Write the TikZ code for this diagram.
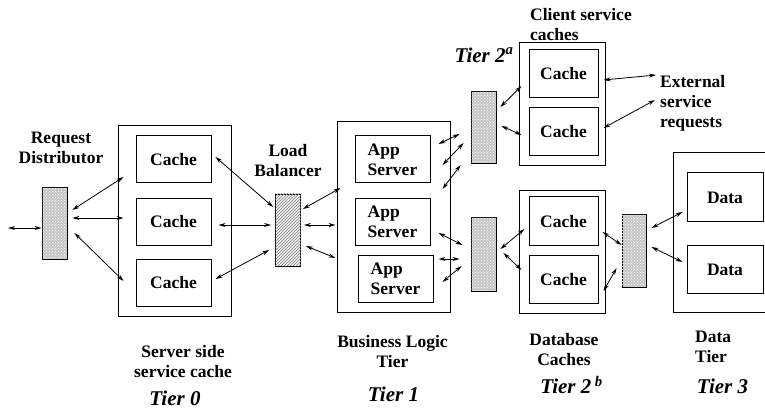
\documentclass[tikz,border=0pt]{standalone}
\usepackage{fontspec}
\setmainfont{Liberation Serif}
\usetikzlibrary{arrows.meta,patterns,positioning}

\begin{document}
\begin{tikzpicture}
			[x=1pt,y=1pt,>={Stealth[length=7pt,width=4pt]},
			every node/.style={font=\fontsize{17.5}{20}\selectfont\bfseries},
			tierbox/.style={draw,line width=1pt,inner sep=0pt,minimum width=113pt,minimum height=191pt},
			cachebox/.style={tierbox,minimum height=123pt,minimum width=86pt},
			cell/.style={draw,line width=1pt,inner sep=0pt,minimum width=75pt,minimum height=47pt},
			smallcell/.style={cell,minimum width=69pt,minimum height=48pt},
			spreader/.style={draw,line width=0.8pt,inner sep=0pt,minimum width=25pt,minimum height=72pt,
				fill=gray!45,postaction={pattern=crosshatch dots,pattern color=white}},
			balancer/.style={spreader,fill=gray!12,postaction={pattern=north east lines,pattern color=gray}},
			link/.style={<->,line width=0.8pt},
			tierlabel/.style={inner sep=0pt,font=\fontsize{21}{24}\selectfont\bfseries\itshape}]

			\useasboundingbox (0,0) rectangle (765,409);

			% tier 0
			\node [spreader](dist) at (54.5,186) {};
			\node [align=center](distlabel) at (61,261) {Request\\Distributor};
			\coordinate (req) at (8,181);
			\node [tierbox](t0) at (174.5,187.5) {};
				\node [cell](c01) at (173.5,249.5) {Cache};
				\node [cell](c02) at (173.5,187)   {Cache};
				\node [cell](c03) at (173.5,126)   {Cache};

			% load balancer
			\node [balancer](lb1) at (288,179) {};
			\node [align=center](lblabel) at (288,248) {Load\\Balancer};

			% tier 1
			\node [tierbox](t1) at (393.5,191.5) {};
				\node [cell,align=left](app1) at (392.5,249.5) {App\\Server};
				\node [cell,align=left](app2) at (392.5,187)   {App\\Server};
				\node [cell,align=left](app3) at (395.5,130)   {App\\Server};

			% tier 2
			\node [spreader](lb2a) at (483.5,282) {};
			\node [spreader,minimum height=74pt](lb2b) at (483.5,155) {};
			\node [cachebox](cl) at (562,304.5) {};
				\node [smallcell](cc1) at (563.5,335) {Cache};
				\node [smallcell](cc2) at (563.5,277) {Cache};
			\node [anchor=west,align=left,inner sep=0pt](cllabel) at (530,384) {Client service\\caches};
			\node [tierlabel](t2alabel) at (484,354) {Tier 2\textsuperscript{a}};
			\node [anchor=west,align=left,inner sep=0pt](ext) at (660,306) {External\\service\\requests};
			\node [cachebox](db) at (562,156.5) {};
				\node [smallcell,minimum height=49pt](dc1) at (563.5,187.5) {Cache};
				\node [smallcell](dc2) at (563.5,129) {Cache};

			% tier 3
			\node [spreader,minimum width=24pt,minimum height=73pt](lb3) at (634,158.5) {};
			\node [tierbox,minimum width=102pt,minimum height=160pt](t3) at (724,176) {};
				\node [cell,minimum width=76pt,minimum height=49pt](d1) at (725,211.5) {Data};
				\node [cell,minimum width=76pt,minimum height=48pt](d2) at (725,139) {Data};

			% connectors
			\draw [link] (req) -- ([yshift=-5]dist.west);
			\draw [link] ([shift={(5,13)}]dist.east) -- ([shift={(6,44.5)}]t0.west);
			\draw [link] ([shift={(5,5)}]dist.east) -- ([shift={(6,3.5)}]t0.west);
			\draw [link] ([shift={(7,-10)}]dist.east) -- ([shift={(6,-59.5)}]t0.west);

			\draw [link] ([shift={(4,2.5)}]c01.east) -- ([shift={(-2,23)}]lb1.west);
			\draw [link] ([shift={(7,-3)}]c02.east) -- ([shift={(-4,5)}]lb1.west);
			\draw [link] ([shift={(4,4)}]c03.east) -- ([shift={(-6,-20)}]lb1.west);

			\draw [link] ([shift={(2,21)}]lb1.east) -- ([shift={(4,29.5)}]t1.west);
			\draw [link] ([shift={(3,5)}]lb1.east) -- ([shift={(-1,-7.5)}]t1.west);
			\draw [link] ([shift={(5,-16)}]lb1.east) -- ([shift={(-1,-40.5)}]t1.west);

			\draw [link] ([shift={(8,15.5)}]app1.east) -- ([shift={(-11,-7)}]lb2a.west);
			\draw [link] ([shift={(12,-5.5)}]app1.east) -- ([shift={(-7,-16)}]lb2a.west);
			\draw [link] ([shift={(12,33)}]app2.east) -- ([shift={(-10,-38)}]lb2a.west);
			\draw [link] ([shift={(8,-11)}]app2.east) -- ([shift={(-8,9)}]lb2b.west);
			\draw [link] ([shift={(5,20)}]app3.east) -- ([shift={(-11,-5)}]lb2b.west);
			\draw [link] ([shift={(9,-3)}]app3.east) -- ([shift={(-9,-12)}]lb2b.west);

			\draw [link] ([shift={(4,20)}]lb2a.east) -- ([shift={(3,18.5)}]cl.west);
			\draw [link] ([shift={(5,1)}]lb2a.east) -- ([shift={(3,-30.5)}]cl.west);
			\draw [link] ([shift={(-2,24.5)}]cl.east) -- ([shift={(-4,28)}]ext.west);
			\draw [link] ([shift={(-2,-23.5)}]cl.east) -- ([shift={(-5,3)}]ext.west);

			\draw [link] ([shift={(4,5)}]lb2b.east) -- ([shift={(6,23.5)}]db.west);
			\draw [link] ([shift={(7,1)}]lb2b.east) -- ([shift={(3,-17.5)}]db.west);
			\draw [link] ([shift={(-3,20.5)}]db.east) -- ([shift={(0,5.5)}]lb3.west);
			\draw [link] ([shift={(-2,-38.5)}]db.east) -- ([shift={(-5,-17.5)}]lb3.west);

			\draw [link] ([shift={(5,22.5)}]lb3.east) -- ([shift={(10,21)}]t3.west);
			\draw [link] ([shift={(5,3.5)}]lb3.east) -- ([shift={(10,-29)}]t3.west);

			% bottom labels
			\node [align=center](t0name) at (183,47.5) {Server side\\service cache};
			\node [tierlabel](t0label) at (175,11) {Tier 0};
			\node [align=center](t1name) at (392.5,57) {Business Logic\\Tier};
			\node [tierlabel](t1label) at (393.5,15) {Tier 1};
			\node [align=center](dbname) at (564,59) {Database\\Caches};
			\node [tierlabel](t2blabel) at (571.5,24) {Tier 2\,\textsuperscript{b}};
			\node [anchor=west,align=left,inner sep=0pt](t3name) at (695,62) {Data\\Tier};
			\node [tierlabel](t3label) at (722.5,23) {Tier 3};
\end{tikzpicture}
\end{document}
